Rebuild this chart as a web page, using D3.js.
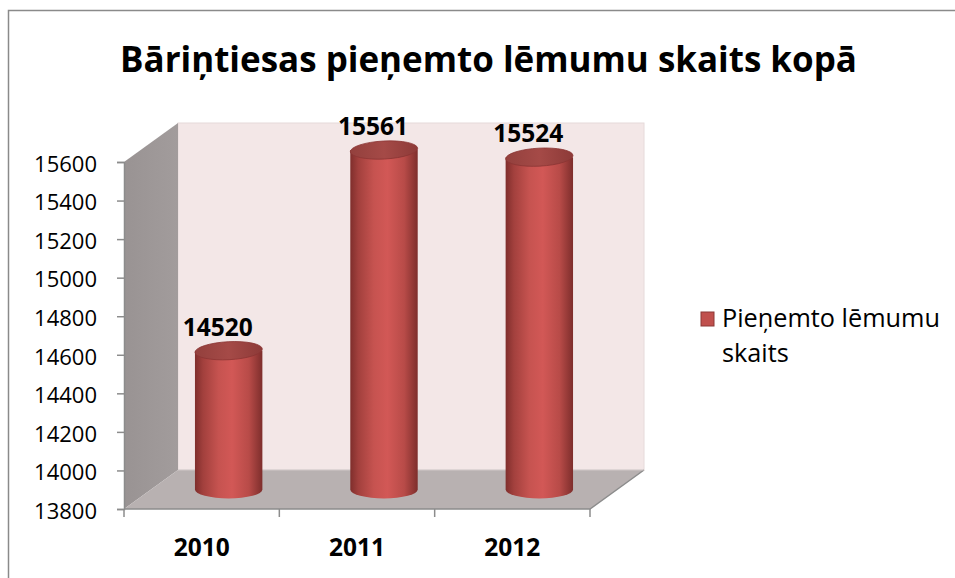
<!DOCTYPE html>
<html><head><meta charset="utf-8">
<script src="https://cdn.jsdelivr.net/npm/d3@7"></script>
<style>body{margin:0;background:#fff}svg{display:block}text{font-family:"Open Sans",sans-serif}</style>
</head><body><svg id="c" width="955" height="578"></svg>
<script>
const title = "Bāriņtiesas pieņemto lēmumu skaits kopā";
const categories = ["2010", "2011", "2012"];
const values = [14520, 15561, 15524];
const seriesName = "Pieņemto lēmumu skaits";
const legendLines = ["Pieņemto lēmumu", "skaits"];
const yTicks = [13800, 14000, 14200, 14400, 14600, 14800, 15000, 15200, 15400, 15600];

const svg = d3.select("#c");
const defs = svg.append("defs");

const x = d3.scaleBand().domain(categories).range([124, 590]);
const y = d3.scaleLinear().domain([13800, 15600]).range([509, 162]);
const DX = 54, DY = -39;
const [y0, y1] = y.range();
const [x0, x1] = x.range();

// border
svg.append("path").attr("d", `M8.5,578 V10.5 H955`).attr("fill", "none").attr("stroke", "#8a8a8a").attr("stroke-width", 1.5);

// gradients
const gWall = defs.append("linearGradient").attr("id", "gw").attr("x1", 0).attr("x2", 1).attr("y1", 0).attr("y2", 0);
gWall.append("stop").attr("offset", "0%").attr("stop-color", "#999393");
gWall.append("stop").attr("offset", "100%").attr("stop-color", "#a29c9c");
const gCyl = defs.append("linearGradient").attr("id", "gc").attr("x1", 0).attr("x2", 1).attr("y1", 0).attr("y2", 0);
[["0%", "#7f2e2c"], ["12%", "#a2403d"], ["35%", "#c65350"], ["55%", "#d25856"], ["80%", "#b84b48"], ["100%", "#7e2e2c"]]
  .forEach(([o, c]) => gCyl.append("stop").attr("offset", o).attr("stop-color", c));
const gTop = defs.append("linearGradient").attr("id", "gt").attr("x1", 0).attr("x2", 1).attr("y1", 0).attr("y2", 0);
[["0%", "#93403d"], ["50%", "#a54a47"], ["100%", "#8d3a38"]]
  .forEach(([o, c]) => gTop.append("stop").attr("offset", o).attr("stop-color", c));

// back wall
svg.append("rect").attr("x", x0 + DX).attr("y", y1 + DY).attr("width", x1 - x0).attr("height", y0 - y1)
  .attr("fill", "#f3e7e7").attr("stroke", "#e6dada").attr("stroke-width", 1);
// left wall
svg.append("polygon").attr("points", [[x0, y1], [x0 + DX, y1 + DY], [x0 + DX, y0 + DY], [x0, y0]].map(p => p.join(",")).join(" "))
  .attr("fill", "url(#gw)");
// floor
svg.append("polygon").attr("points", [[x0, y0], [x0 + DX, y0 + DY], [x1 + DX, y0 + DY], [x1, y0]].map(p => p.join(",")).join(" "))
  .attr("fill", "#b8b1b1");
svg.append("path").attr("d", `M${x0},${y0} H${x1} L${x1 + DX},${y0 + DY}`).attr("fill", "none").attr("stroke", "#8c8c8c").attr("stroke-width", 1.5);
svg.append("line").attr("x1", x0 + DX).attr("y1", y0 + DY).attr("x2", x1 + DX).attr("y2", y0 + DY).attr("stroke", "#cfc8c8").attr("stroke-width", 1);

// y axis
const yAxis = svg.append("g").attr("transform", `translate(${x0},0)`)
  .call(d3.axisLeft(y).tickValues(yTicks).tickSize(7).tickPadding(20).tickFormat(d3.format("d")));
yAxis.select(".domain").attr("stroke", "#8c8c8c").attr("stroke-width", 1.5);
yAxis.selectAll(".tick line").attr("stroke", "#8c8c8c").attr("stroke-width", 1.5);
yAxis.selectAll(".tick text").attr("font-size", 22).attr("fill", "#000").attr("font-family", "'Open Sans',sans-serif").attr("dy", "0.42em");

// x axis
const xTickPos = [x0, ...categories.map(c => x(c) + x.bandwidth())];
svg.append("g").selectAll("line").data(xTickPos).join("line")
  .attr("x1", d => d).attr("x2", d => d).attr("y1", y0).attr("y2", y0 + 8)
  .attr("stroke", "#8c8c8c").attr("stroke-width", 1.5);
svg.append("g").selectAll("text").data(categories).join("text")
  .attr("x", d => x(d) + x.bandwidth() / 2).attr("y", 556)
  .attr("text-anchor", "middle").attr("font-size", 24.5).attr("font-weight", 700).text(d => d);

// cylinders
const rx = x.bandwidth() * 0.217, ry = 9;
const bars = svg.append("g").selectAll("g").data(categories.map((c, i) => ({c, v: values[i]}))).join("g");
bars.each(function (d) {
  const g = d3.select(this);
  const cx = x(d.c) + x.bandwidth() / 2 + DX / 2;
  const yb = y(13800) + DY / 2, yt = y(d.v) + DY / 2;
  g.append("path")
    .attr("d", `M${cx - rx},${yt} V${yb} A${rx},${ry} 0 0 0 ${cx + rx},${yb} V${yt} Z`)
    .attr("fill", "url(#gc)");
  g.append("ellipse").attr("cx", cx).attr("cy", yt).attr("rx", rx).attr("ry", ry)
    .attr("transform", `rotate(-3,${cx},${yt})`)
    .attr("fill", "url(#gt)").attr("stroke", "#8a3533").attr("stroke-width", 0.8);
  g.append("text").attr("x", x(d.c) + x.bandwidth() / 2 + 16).attr("y", yt - 15)
    .attr("text-anchor", "middle").attr("font-size", 24.5).attr("font-weight", 700).text(d.v);
});

// title
const t = svg.append("text").attr("x", 488.5).attr("y", 72).attr("text-anchor", "middle")
  .attr("font-weight", 700).attr("font-size", 36).text(title);
const tw = t.node().getComputedTextLength();
t.attr("font-size", 36 * 737 / tw);

// legend
const lg = svg.append("g").attr("aria-label", seriesName);
lg.append("rect").attr("x", 701).attr("y", 312).attr("width", 13).attr("height", 14)
  .attr("fill", "#c0504d").attr("stroke", "#8c3836").attr("stroke-width", 1);
const l1 = lg.append("text").attr("x", 722).attr("y", 327).attr("font-size", 24).text(legendLines[0]);
const lw = l1.node().getComputedTextLength();
const lfs = 24 * 218 / lw;
l1.attr("font-size", lfs);
lg.append("text").attr("x", 722).attr("y", 362).attr("font-size", lfs).text(legendLines[1]);
</script></body></html>
